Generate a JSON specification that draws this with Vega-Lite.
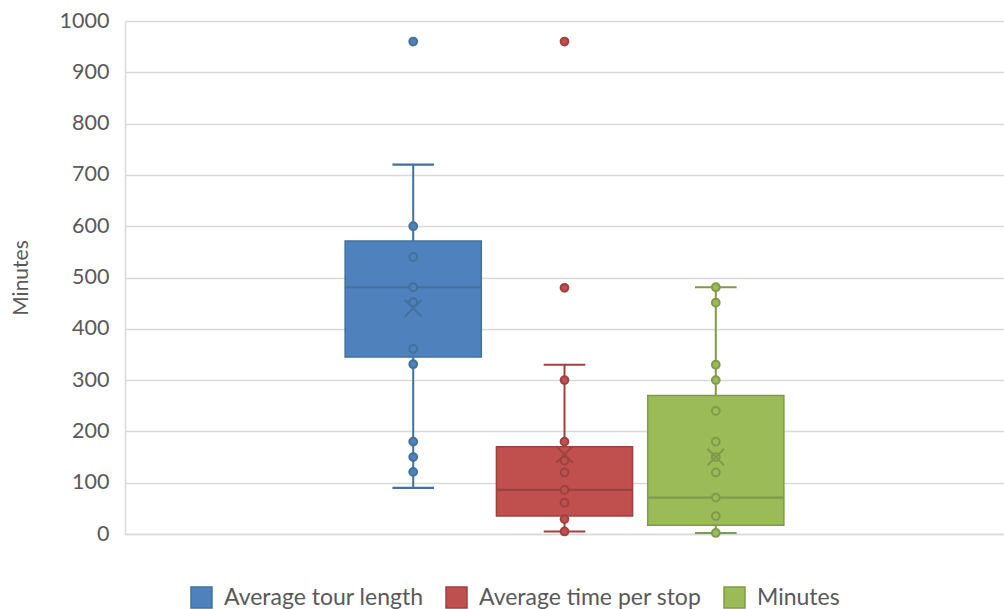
{
  "$schema": "https://vega.github.io/schema/vega-lite/v6.json",
  "width": 879,
  "height": 513,
  "autosize": "none",
  "padding": {"left": 125, "top": 21, "right": 0, "bottom": 75},
  "background": "white",
  "config": {
    "font": "Lato",
    "view": {"stroke": null},
    "axis": {"labelFont": "Lato", "titleFont": "Lato"},
    "legend": {"labelFont": "Lato"}
  },
  "datasets": {
    "summary": [
      {"series": "Average tour length", "low": 90, "q1": 345, "median": 481, "q3": 571, "high": 720, "mean": 440},
      {"series": "Average time per stop", "low": 5, "q1": 35, "median": 86, "q3": 170, "high": 330, "mean": 155},
      {"series": "Minutes", "low": 2, "q1": 17, "median": 71, "q3": 270, "high": 481, "mean": 150}
    ],
    "points": [
      {"series": "Average tour length", "value": 960},
      {"series": "Average tour length", "value": 600},
      {"series": "Average tour length", "value": 540},
      {"series": "Average tour length", "value": 481},
      {"series": "Average tour length", "value": 452},
      {"series": "Average tour length", "value": 361},
      {"series": "Average tour length", "value": 331},
      {"series": "Average tour length", "value": 180},
      {"series": "Average tour length", "value": 150},
      {"series": "Average tour length", "value": 121},
      {"series": "Average time per stop", "value": 960},
      {"series": "Average time per stop", "value": 480},
      {"series": "Average time per stop", "value": 300},
      {"series": "Average time per stop", "value": 180},
      {"series": "Average time per stop", "value": 143},
      {"series": "Average time per stop", "value": 120},
      {"series": "Average time per stop", "value": 86},
      {"series": "Average time per stop", "value": 61},
      {"series": "Average time per stop", "value": 29},
      {"series": "Average time per stop", "value": 5},
      {"series": "Minutes", "value": 481},
      {"series": "Minutes", "value": 451},
      {"series": "Minutes", "value": 330},
      {"series": "Minutes", "value": 300},
      {"series": "Minutes", "value": 240},
      {"series": "Minutes", "value": 180},
      {"series": "Minutes", "value": 150},
      {"series": "Minutes", "value": 120},
      {"series": "Minutes", "value": 71},
      {"series": "Minutes", "value": 35},
      {"series": "Minutes", "value": 2}
    ]
  },
  "encoding": {
    "x": {
      "field": "series",
      "type": "nominal",
      "sort": null,
      "scale": {"domain": ["gap-left", "Average tour length", "Average time per stop", "Minutes", "gap-right"], "paddingInner": 0.1, "paddingOuter": 0.455},
      "axis": {"title": null, "labels": false, "ticks": false, "grid": false, "domainColor": "#D9D9D9", "domainWidth": 1.5}
    },
    "stroke": {
      "field": "series",
      "type": "nominal",
      "scale": {"domain": ["Average tour length", "Average time per stop", "Minutes"], "range": ["#41719C", "#9E413E", "#7F9A48"]}
    }
  },
  "layer": [
    {
      "data": {"name": "summary"},
      "mark": {"type": "rule", "strokeWidth": 2},
      "encoding": {
        "y": {
          "field": "low",
          "type": "quantitative",
          "scale": {"domain": [0, 1000], "nice": false},
          "axis": {
            "title": "Minutes",
            "titleFontSize": 21,
            "titleFontWeight": "normal",
            "titleColor": "#595959",
            "titlePadding": 28,
            "values": [0, 100, 200, 300, 400, 500, 600, 700, 800, 900, 1000],
            "format": "d",
            "labelFontSize": 21.5,
            "labelColor": "#595959",
            "labelPadding": 16,
            "ticks": false,
            "domainColor": "#D9D9D9",
            "domainWidth": 1.5,
            "gridColor": "#D9D9D9",
            "gridWidth": 1.5
          }
        },
        "y2": {"field": "high"}
      }
    },
    {
      "data": {"name": "summary"},
      "mark": {"type": "tick", "size": 40, "thickness": 0.5, "filled": false, "opacity": 1, "strokeWidth": 1.6},
      "encoding": {
        "y": {"field": "low", "type": "quantitative"}
      }
    },
    {
      "data": {"name": "summary"},
      "mark": {"type": "tick", "size": 40, "thickness": 0.5, "filled": false, "opacity": 1, "strokeWidth": 1.6},
      "encoding": {
        "y": {"field": "high", "type": "quantitative"}
      }
    },
    {
      "data": {"name": "summary"},
      "mark": {"type": "bar", "strokeWidth": 1.5, "opacity": 1},
      "encoding": {
        "y": {"field": "q1", "type": "quantitative"},
        "y2": {"field": "q3"},
        "fill": {
          "field": "series",
          "type": "nominal",
          "scale": {"domain": ["Average tour length", "Average time per stop", "Minutes"], "range": ["#4F81BD", "#C0504D", "#9BBB59"]},
          "legend": {
            "title": null,
            "orient": "none",
            "legendX": 65,
            "legendY": 565,
            "padding": 0,
            "direction": "horizontal",
            "symbolType": "square",
            "symbolSize": 440,
            "symbolStrokeWidth": 1.5,
            "labelFontSize": 23,
            "labelColor": "#595959",
            "labelOffset": 11,
            "labelLimit": 400,
            "columnPadding": 19
          }
        }
      }
    },
    {
      "data": {"name": "summary"},
      "mark": {"type": "tick", "size": 135, "thickness": 0.5, "filled": false, "opacity": 1, "strokeWidth": 1.6},
      "encoding": {
        "y": {"field": "median", "type": "quantitative"}
      }
    },
    {
      "data": {"name": "points"},
      "mark": {"type": "point", "shape": "circle", "filled": false, "size": 60, "strokeWidth": 2, "opacity": 1},
      "encoding": {
        "y": {"field": "value", "type": "quantitative"},
        "fill": {"field": "series", "type": "nominal"}
      }
    },
    {
      "data": {"name": "summary"},
      "mark": {"type": "point", "shape": "M-1,-1L1,1M1,-1L-1,1", "filled": false, "size": 280, "strokeWidth": 2, "opacity": 1},
      "encoding": {
        "y": {"field": "mean", "type": "quantitative"}
      }
    }
  ]
}
